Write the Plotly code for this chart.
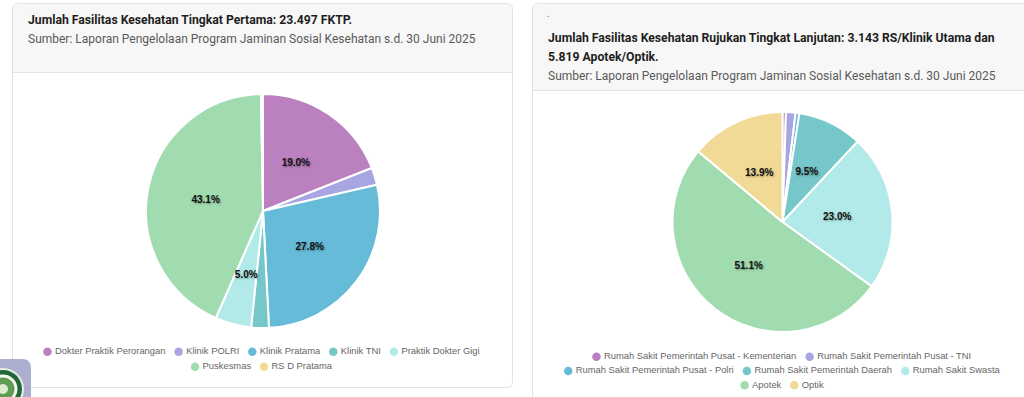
import plotly.graph_objects as go

W, H = 1024, 397

# ---------------- data ----------------
fktp_labels = ["Dokter Praktik Perorangan", "Klinik POLRI", "Klinik Pratama", "Klinik TNI",
               "Praktik Dokter Gigi", "Puskesmas", "RS D Pratama"]
fktp_values = [4465, 560, 6532, 572, 1175, 10127, 66]

fkrtl_labels = ["Rumah Sakit Pemerintah Pusat - Kementerian", "Rumah Sakit Pemerintah Pusat - TNI",
                "Rumah Sakit Pemerintah Pusat - Polri", "Rumah Sakit Pemerintah Daerah",
                "Rumah Sakit Swasta", "Apotek", "Optik"]
fkrtl_values = [45, 125, 50, 850, 2060, 4580, 1245]

palette = ["#bb80c0", "#a8a6e2", "#66bbd9", "#76c7ca", "#b2eaea", "#a1dbb0", "#f1da95"]

title_left = "Jumlah Fasilitas Kesehatan Tingkat Pertama: 23.497 FKTP."
title_right_1 = "Jumlah Fasilitas Kesehatan Rujukan Tingkat Lanjutan: 3.143 RS/Klinik Utama dan"
title_right_2 = "5.819 Apotek/Optik."
source_text = "Sumber: Laporan Pengelolaan Program Jaminan Sosial Kesehatan s.d. 30 Juni 2025"

# legend rows (how the legend wraps inside each card)
fktp_legend_rows = [[0, 1, 2, 3, 4], [5, 6]]
fkrtl_legend_rows = [[0, 1], [2, 3, 4], [5, 6]]

MIN_LABEL_PCT = 4.0

# ---------------- helpers ----------------
def X(px):
    return px / W

def Y(py):
    return 1 - py / H

def rrect(x0, y0, x1, y1, r, top=True, bottom=True):
    rt = r if top else 0
    rb = r if bottom else 0
    pts = [f"M{X(x0 + rt)},{Y(y0)}", f"L{X(x1 - rt)},{Y(y0)}"]
    if rt:
        pts.append(f"Q{X(x1)},{Y(y0)} {X(x1)},{Y(y0 + rt)}")
    pts.append(f"L{X(x1)},{Y(y1 - rb)}")
    if rb:
        pts.append(f"Q{X(x1)},{Y(y1)} {X(x1 - rb)},{Y(y1)}")
    pts.append(f"L{X(x0 + rb)},{Y(y1)}")
    if rb:
        pts.append(f"Q{X(x0)},{Y(y1)} {X(x0)},{Y(y1 - rb)}")
    pts.append(f"L{X(x0)},{Y(y0 + rt)}")
    if rt:
        pts.append(f"Q{X(x0)},{Y(y0)} {X(x0 + rt)},{Y(y0)}")
    pts.append("Z")
    return " ".join(pts)

def square_domain(cx, cy, r):
    return dict(x=[X(cx - r), X(cx + r)], y=[Y(cy + r), Y(cy - r)])

def label_templates(values):
    tot = sum(values)
    return ["%{percent:.1%}" if v / tot * 100 >= MIN_LABEL_PCT else "" for v in values]

PCT_FONT = 10

fig = go.Figure()

def add_pie(labels, values, cx, cy, r):
    # the visible pie
    fig.add_trace(go.Pie(
        labels=labels, values=values, sort=False, direction="clockwise", rotation=0,
        marker=dict(colors=palette, line=dict(color="white", width=2)),
        textinfo="none", showlegend=False, domain=square_domain(cx, cy, r),
        hovertemplate="%{label}: %{value} (%{percent})<extra></extra>",
    ))
    # transparent ring carrying the percentage labels at half radius
    rho = 0.5 * r
    thick = 34
    outer = rho + thick / 2
    fig.add_trace(go.Pie(
        labels=labels, values=values, sort=False, direction="clockwise", rotation=0,
        hole=(outer - thick) / outer,
        marker=dict(colors=["rgba(0,0,0,0)"] * len(values), line=dict(width=0)),
        texttemplate=label_templates(values), textposition="inside",
        insidetextorientation="horizontal",
        textfont=dict(family="Liberation Sans, Arial, sans-serif", size=PCT_FONT, color="#111",
                      weight="bold", shadow="1px 1px 2px rgba(0,0,0,0.35)"),
        hoverinfo="skip", showlegend=False, domain=square_domain(cx, cy, outer),
    ))

add_pie(fktp_labels, fktp_values, 263, 211, 117)
add_pie(fkrtl_labels, fkrtl_values, 782.5, 222, 110)

# ---------------- legends (circle point style, centred rows) ----------------
ARIAL = {" ": 278, "-": 333, ".": 278,
         "A": 667, "B": 667, "C": 722, "D": 722, "E": 667, "F": 611, "G": 778, "H": 722, "I": 278,
         "J": 500, "K": 667, "L": 556, "M": 833, "N": 722, "O": 778, "P": 667, "Q": 778, "R": 722,
         "S": 667, "T": 611, "U": 722, "V": 667, "W": 944, "X": 667, "Y": 667, "Z": 611,
         "a": 556, "b": 556, "c": 500, "d": 556, "e": 556, "f": 278, "g": 556, "h": 556, "i": 222,
         "j": 222, "k": 500, "l": 222, "m": 833, "n": 556, "o": 556, "p": 556, "q": 556, "r": 333,
         "s": 500, "t": 278, "u": 556, "v": 500, "w": 722, "x": 500, "y": 500, "z": 500}
LEG_FONT = 9.4
DOT = 8.5
DOT_GAP = 3.3
ITEM_GAP = 8.6

def text_width(s):
    return sum(ARIAL.get(c, 556) for c in s) / 1000 * LEG_FONT

def add_legend(labels, rows, cx, row_ys):
    dx, dy, dc, tx, ty, tt = [], [], [], [], [], []
    for idxs, y in zip(rows, row_ys):
        widths = [DOT + DOT_GAP + text_width(labels[i]) for i in idxs]
        x = cx - (sum(widths) + ITEM_GAP * (len(idxs) - 1)) / 2
        for i, w in zip(idxs, widths):
            dx.append(x + DOT / 2); dy.append(y); dc.append(palette[i])
            tx.append(x + DOT + DOT_GAP); ty.append(y); tt.append(labels[i])
            x += w + ITEM_GAP
    fig.add_trace(go.Scatter(x=dx, y=dy, mode="markers", marker=dict(size=DOT, color=dc, line=dict(width=0)),
                             hoverinfo="skip", showlegend=False, cliponaxis=False))
    fig.add_trace(go.Scatter(x=tx, y=ty, mode="text", text=tt, textposition="middle right",
                             textfont=dict(family="Liberation Sans, Arial, sans-serif", size=LEG_FONT, color="#666"),
                             hoverinfo="skip", showlegend=False, cliponaxis=False))

add_legend(fktp_labels, fktp_legend_rows, 261.5, [351.7, 366.7])
add_legend(fkrtl_labels, fkrtl_legend_rows, 782, [356.7, 371, 385.2])

# ---------------- card shapes ----------------
border = "#e2e2e2"
header_fill = "#f7f7f7"
shapes = [
    dict(type="path", path=rrect(12.5, 3.5, 512.5, 387.5, 6), fillcolor="white",
         line=dict(color=border, width=1), layer="below"),
    dict(type="path", path=rrect(13, 4, 512, 72, 6, bottom=False), fillcolor=header_fill,
         line=dict(width=0), layer="below"),
    dict(type="line", x0=X(12.5), x1=X(512.5), y0=Y(72.5), y1=Y(72.5),
         line=dict(color=border, width=1), layer="below"),
    dict(type="path", path=rrect(532.5, 3.5, 1040, 430, 6), fillcolor="white",
         line=dict(color=border, width=1), layer="below"),
    dict(type="path", path=rrect(533, 4, 1040, 90, 6, bottom=False), fillcolor=header_fill,
         line=dict(width=0), layer="below"),
    dict(type="line", x0=X(532.5), x1=X(1040), y0=Y(90.5), y1=Y(90.5),
         line=dict(color=border, width=1), layer="below"),
]

# floating logo button in the bottom-left corner
shapes.append(dict(type="path", path=rrect(-20, 359, 31, 440, 9),
                   fillcolor="rgba(160,164,198,0.88)", line=dict(width=0), layer="above"))
for rad, col in [(21, "#e8efe6"), (19, "#22673a"), (14.5, "#f4f7f2"), (11.5, "#5e9c52"), (5, "#dfeccf")]:
    shapes.append(dict(type="circle", x0=X(3 - rad), x1=X(3 + rad), y0=Y(389 + rad), y1=Y(389 - rad),
                       fillcolor=col, line=dict(width=0), layer="above"))
for s in shapes:
    s.update(xref="paper", yref="paper")

# ---------------- texts ----------------
title_font = dict(family="Roboto, sans-serif", size=12.2, color="#1e1e1e", weight="bold")
sub_font = dict(family="Roboto, sans-serif", size=12.0, color="#5a5a5a")

annotations = [
    dict(text=title_left, x=X(26), y=Y(20), font=title_font),
    dict(text=source_text, x=X(26), y=Y(39), font=sub_font),
    dict(text=".", x=X(545), y=Y(13), font=dict(family="Roboto", size=10, color="#777")),
    dict(text=title_right_1, x=X(546), y=Y(38), font=title_font),
    dict(text=title_right_2, x=X(546), y=Y(57), font=title_font),
    dict(text=source_text, x=X(546), y=Y(76), font=sub_font),
]
for a in annotations:
    a.update(xref="paper", yref="paper", xanchor="left", yanchor="middle", showarrow=False)

fig.update_layout(
    width=W, height=H, margin=dict(l=0, r=0, t=0, b=0),
    paper_bgcolor="white", plot_bgcolor="rgba(0,0,0,0)",
    xaxis=dict(range=[0, W], visible=False, fixedrange=True),
    yaxis=dict(range=[H, 0], visible=False, fixedrange=True),
    shapes=shapes, annotations=annotations,
    uniformtext=dict(mode="show", minsize=PCT_FONT),
    showlegend=False,
)

fig.write_html("out.html", config={"displayModeBar": False},
               post_script="document.body.style.margin='0';document.body.style.overflow='hidden';")
